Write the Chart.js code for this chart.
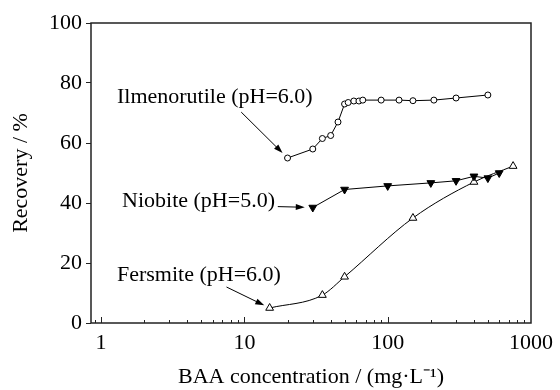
<!DOCTYPE html>
<html>
<head>
<meta charset="utf-8">
<script src="https://cdn.jsdelivr.net/npm/chart.js@4"></script>
<style>
  html, body { margin: 0; background: #fff; }
</style>
</head>
<body>
<canvas id="recoveryChart" width="560" height="390"></canvas>
<script>
// BAA concentration (mg/L) vs. recovery (%)
const ilmConc = [20, 30, 35, 40, 45, 50, 53, 58, 63, 67, 90, 120, 150, 210, 300, 500];
const ilmRecovery = [55, 58, 61.5, 62.5, 67, 73, 73.5, 74, 74, 74.3, 74.3, 74.3, 74.1, 74.3, 75, 76];

const nioConc = [30, 50, 100, 200, 300, 400, 500, 600];
const nioRecovery = [38.5, 44.5, 45.7, 46.7, 47.4, 48.9, 48.3, 50];

const ferConc = [15, 35, 50, 150, 400, 750];
const ferRecovery = [5, 9.3, 15.4, 35, 47, 52.3];

const xTickValues = [1, 10, 100, 1000];
const seriesNames = ['Ilmenorutile (pH=6.0)', 'Niobite (pH=5.0)', 'Fersmite (pH=6.0)'];

const serif = "'Liberation Serif', 'Times New Roman', serif";

function toPoints(xs, ys) {
    return xs.map((x, i) => ({ x: x, y: ys[i] }));
}

// text labels with arrows pointing at the first point of each curve
const callouts = [
    { text: seriesNames[0], at: [1.29, 75.3], from: [9.5, 70.3], dataset: 0, gap: 7 },
    { text: seriesNames[1], at: [1.40, 40.7], from: [17.1, 38.8], dataset: 1, gap: 8 },
    { text: seriesNames[2], at: [1.29, 16], from: [7.5, 12], dataset: 2, gap: 6 }
];

function drawArrow(ctx, x0, y0, x1, y1, gap) {
    const ang = Math.atan2(y1 - y0, x1 - x0);
    const tx = x1 - Math.cos(ang) * gap;
    const ty = y1 - Math.sin(ang) * gap;
    const head = 9, half = 3;
    ctx.beginPath();
    ctx.moveTo(x0, y0);
    ctx.lineTo(tx - Math.cos(ang) * head * 0.8, ty - Math.sin(ang) * head * 0.8);
    ctx.stroke();
    ctx.beginPath();
    ctx.moveTo(tx, ty);
    ctx.lineTo(tx - Math.cos(ang) * head - Math.sin(ang) * half, ty - Math.sin(ang) * head + Math.cos(ang) * half);
    ctx.lineTo(tx - Math.cos(ang) * head + Math.sin(ang) * half, ty - Math.sin(ang) * head - Math.cos(ang) * half);
    ctx.closePath();
    ctx.fill();
}

const calloutPlugin = {
    id: 'callouts',
    afterDatasetsDraw(chart) {
        const ctx = chart.ctx;
        const xs = chart.scales.x, ys = chart.scales.y;
        ctx.save();
        ctx.fillStyle = '#000';
        ctx.strokeStyle = '#000';
        ctx.lineWidth = 1;
        ctx.font = '22px ' + serif;
        ctx.textAlign = 'left';
        ctx.textBaseline = 'middle';
        callouts.forEach(c => {
            ctx.fillText(c.text, xs.getPixelForValue(c.at[0]), ys.getPixelForValue(c.at[1]));
            const target = chart.data.datasets[c.dataset].data[0];
            drawArrow(ctx,
                xs.getPixelForValue(c.from[0]), ys.getPixelForValue(c.from[1]),
                xs.getPixelForValue(target.x), ys.getPixelForValue(target.y), c.gap);
        });
        ctx.restore();
    }
};

// frame around the plot plus inward log ticks on the x axis
const framePlugin = {
    id: 'frame',
    afterDraw(chart) {
        const ctx = chart.ctx;
        const a = chart.chartArea;
        const xs = chart.scales.x;
        ctx.save();
        ctx.strokeStyle = '#222';
        ctx.lineWidth = 1.5;
        ctx.strokeRect(a.left, a.top, a.right - a.left, a.bottom - a.top);
        ctx.lineWidth = 1;
        ctx.beginPath();
        for (let d = 0.1; d < 1000; d *= 10) {
            for (let k = 1; k <= 9; k++) {
                const v = k * d;
                if (v < xs.min || v > xs.max) continue;
                const px = Math.round(xs.getPixelForValue(v)) + 0.5;
                const len = k === 1 ? 6 : 3;
                ctx.moveTo(px, a.bottom);
                ctx.lineTo(px, a.bottom - len);
            }
        }
        ctx.stroke();
        ctx.restore();
    }
};

new Chart(document.getElementById('recoveryChart'), {
    type: 'line',
    data: {
        datasets: [
            {
                label: seriesNames[0],
                data: toPoints(ilmConc, ilmRecovery),
                borderColor: '#000',
                borderWidth: 1,
                tension: 0,
                pointStyle: 'circle',
                pointRadius: 3,
                pointBorderWidth: 1,
                pointBorderColor: '#000',
                pointBackgroundColor: '#fff'
            },
            {
                label: seriesNames[1],
                data: toPoints(nioConc, nioRecovery),
                borderColor: '#000',
                borderWidth: 1,
                tension: 0,
                pointStyle: 'triangle',
                rotation: 180,
                pointRadius: 4.5,
                pointBorderWidth: 1,
                pointBorderColor: '#000',
                pointBackgroundColor: '#000'
            },
            {
                label: seriesNames[2],
                data: toPoints(ferConc, ferRecovery),
                borderColor: '#000',
                borderWidth: 1,
                cubicInterpolationMode: 'monotone',
                pointStyle: 'triangle',
                pointRadius: 4.5,
                pointBorderWidth: 1,
                pointBorderColor: '#000',
                pointBackgroundColor: '#fff'
            }
        ]
    },
    options: {
        responsive: false,
        animation: false,
        events: [],
        layout: {
            padding: { top: 23, right: 23, left: 0, bottom: 0 }
        },
        plugins: {
            legend: { display: false },
            tooltip: { enabled: false }
        },
        scales: {
            x: {
                type: 'logarithmic',
                min: 0.85,
                max: 1000,
                afterBuildTicks: scale => {
                    scale.ticks = xTickValues.map(v => ({ value: v }));
                },
                afterFit: scale => { scale.height = 67; },
                border: { display: false },
                grid: { display: false, drawTicks: false },
                ticks: {
                    color: '#000',
                    padding: 7,
                    maxRotation: 0,
                    font: { family: serif, size: 22 },
                    callback: v => String(v)
                },
                title: {
                    display: true,
                    text: 'BAA concentration / (mg·L⁻¹)',
                    color: '#000',
                    padding: { top: 0, bottom: 0 },
                    font: { family: serif, size: 22 }
                }
            },
            y: {
                min: 0,
                max: 100,
                afterFit: scale => { scale.width = 91; },
                border: { display: false },
                grid: {
                    drawOnChartArea: false,
                    tickLength: 5,
                    color: '#222',
                    tickColor: '#222'
                },
                ticks: {
                    stepSize: 20,
                    color: '#000',
                    padding: 4,
                    font: { family: serif, size: 22 }
                },
                title: {
                    display: true,
                    text: 'Recovery / %',
                    color: '#000',
                    padding: { top: 8, bottom: 0 },
                    font: { family: serif, size: 22 }
                }
            }
        }
    },
    plugins: [calloutPlugin, framePlugin]
});
</script>
</body>
</html>
